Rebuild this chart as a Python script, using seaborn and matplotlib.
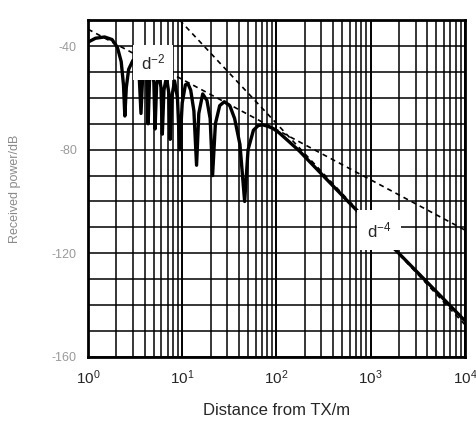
import numpy as np
import pandas as pd
import matplotlib
matplotlib.use("Agg")
import matplotlib.pyplot as plt
import seaborn as sns

# two-ray curve (distance in m, level in dB)
ray_dist = [1.0, 1.2, 1.5, 1.8, 2.05, 2.25, 2.38, 2.46, 2.55, 2.7, 3.0, 3.3, 3.5, 3.65, 3.8,
            4.0, 4.2, 4.35, 4.5, 4.75, 5.0, 5.15, 5.35, 5.65, 5.95, 6.15, 6.4, 6.8, 7.2, 7.45,
            7.8, 8.3, 8.9, 9.4, 10.0, 10.8, 11.5, 12.3, 13.3, 14.2, 15.0, 16.5, 18.3, 19.8,
            21.0, 22.5, 25.0, 28.0, 32.0, 36.0, 41.0, 46.0, 50.0, 57.0, 64.0, 71.0, 80.0,
            92.0, 107.0, 137.0, 175.0, 364.0, 594.0, 10000.0]
ray_db = [-38.5, -37.0, -36.5, -37.5, -40.5, -46.0, -55.0, -67.0, -56.0, -49.0, -45.5, -46.0,
          -52.0, -66.0, -52.0, -47.5, -52.0, -70.0, -53.0, -49.0, -54.0, -72.0, -55.0, -50.5,
          -56.0, -74.0, -57.0, -52.0, -58.0, -76.0, -59.0, -53.5, -60.0, -80.0, -62.0, -55.0,
          -54.5, -57.0, -65.0, -86.0, -66.0, -58.5, -61.0, -68.0, -90.0, -70.0, -63.0, -61.5,
          -63.0, -68.0, -78.0, -100.0, -80.0, -72.5, -70.7, -70.4, -70.9, -71.8, -73.5, -77.0,
          -80.5, -92.5, -100.5, -146.0]

# asymptotes (dashed)
d2_dist = [1.0, 10000.0]
d2_db = [-33.5, -111.0]
d4_dist = [9.4, 10000.0]
d4_db = [-30.0, -147.5]

x_ticks = [1, 10, 100, 1000, 10000]
x_labels = ["$10^0$", "$10^1$", "$10^2$", "$10^3$", "$10^4$"]
y_ticks = [-40, -80, -120, -160]
y_labels = ["-40", "-80", "-120", "-160"]

sns.set_style("white")
plt.rcParams['font.family'] = ['Liberation Sans', 'DejaVu Sans']
plt.rcParams['mathtext.fontset'] = 'custom'
plt.rcParams['mathtext.rm'] = 'Liberation Sans'
plt.rcParams['mathtext.it'] = 'Liberation Sans'

fig = plt.figure(figsize=(4.77, 4.28), dpi=100)
ax = fig.add_axes([0.1845, 0.166, 0.790, 0.787])

ray_df = pd.DataFrame({"dist": ray_dist, "db": ray_db})
d2_df = pd.DataFrame({"dist": d2_dist, "db": d2_db})
d4_df = pd.DataFrame({"dist": d4_dist, "db": d4_db})

sns.lineplot(data=d2_df, x="dist", y="db", ax=ax, color="black", lw=1.2,
             linestyle=(0, (3, 2.5)), zorder=3)
sns.lineplot(data=d4_df, x="dist", y="db", ax=ax, color="black", lw=1.2,
             linestyle=(0, (3, 2.5)), zorder=3)
sns.lineplot(data=ray_df, x="dist", y="db", ax=ax, color="black", lw=2.4, zorder=4,
             sort=False)

ax.set_xscale("log")
ax.set_xlim(1, 10000)
ax.set_ylim(-160, -30)
ax.set_yticks(np.arange(-160, -29, 10), minor=True)

# dense black grid like the printed chart paper
ax.grid(True, which="major", axis="x", color="black", lw=1.4)
ax.grid(True, which="minor", axis="x", color="black", lw=1.1)
ax.grid(True, which="minor", axis="y", color="black", lw=1.1)
ax.grid(True, which="major", axis="y", color="black", lw=1.1)
ax.set_axisbelow(True)

ax.set_xticks(x_ticks)
ax.set_xticklabels(x_labels, fontsize=11)
ax.set_yticks(y_ticks)
ax.set_yticklabels(y_labels, fontsize=9, color="#9a9a9a")
ax.tick_params(axis="both", which="both", length=0, pad=8)

for s in ax.spines.values():
    s.set_color("black")
    s.set_linewidth(2.0)

ax.set_xlabel("Distance from TX/m", fontsize=12, labelpad=12)
ax.set_ylabel("Received power/dB", fontsize=9, color="#8a8a8a", labelpad=22)

# curve labels with white boxes that hide the grid underneath
ax.text(4.9, -46.5, "d$^{-2}$", fontsize=12, ha="center", va="center", zorder=6,
        bbox=dict(boxstyle="square,pad=0.45", fc="white", ec="none"))
ax.text(1230, -111, "d$^{-4}$", fontsize=12, ha="center", va="center", zorder=6,
        bbox=dict(boxstyle="square,pad=0.6", fc="white", ec="none"))

fig.savefig("out.png", dpi=100)
